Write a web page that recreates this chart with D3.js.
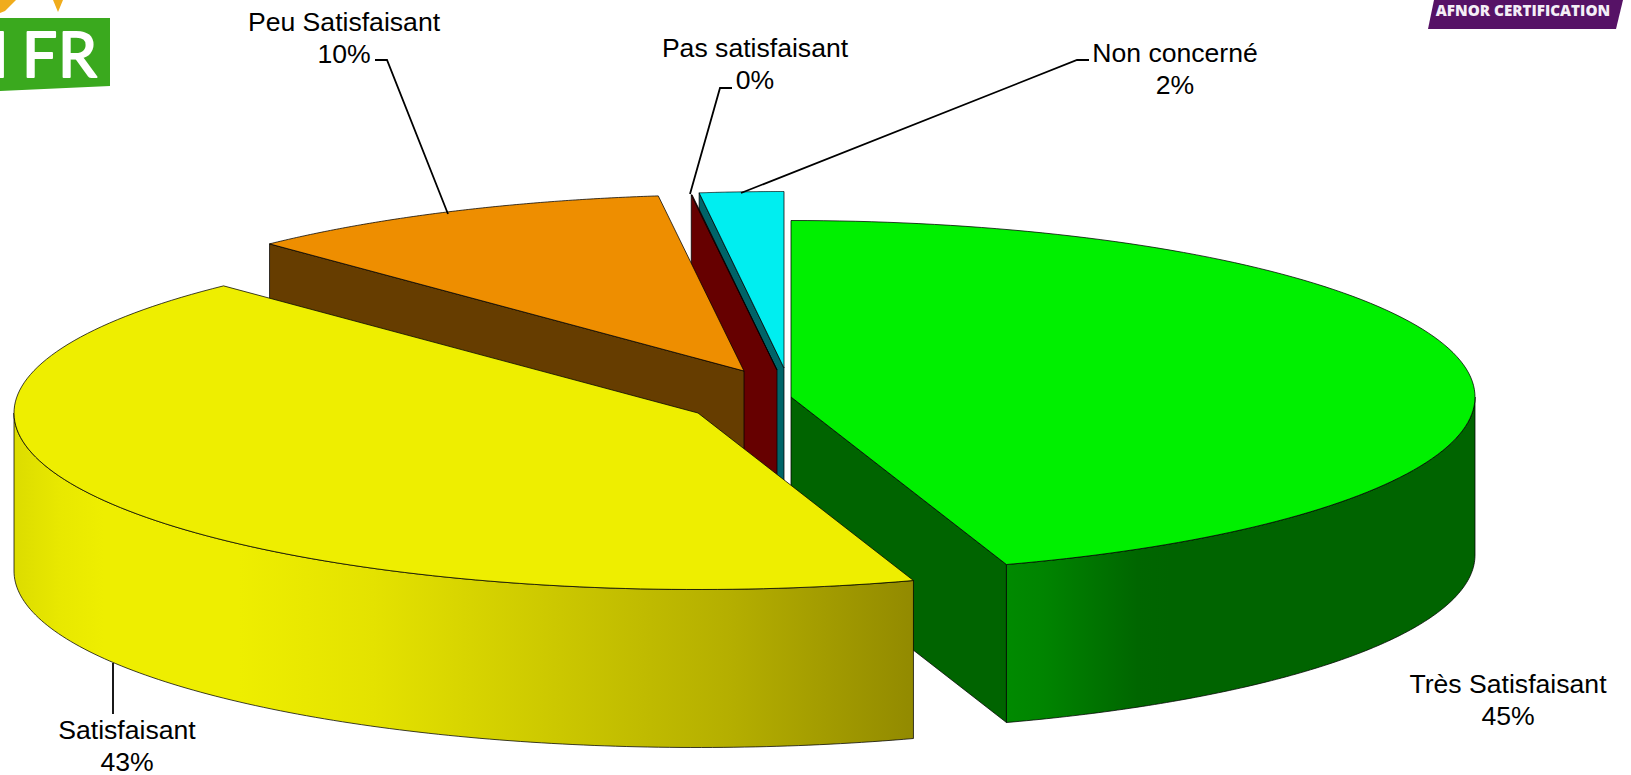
<!DOCTYPE html>
<html><head><meta charset="utf-8">
<script src="https://cdn.jsdelivr.net/npm/d3@7"></script>
<style>html,body{margin:0;padding:0;background:#fff;overflow:hidden}svg{display:block}text{font-family:"Liberation Sans",Arial,sans-serif}</style>
</head><body><svg id="c" width="1631" height="775"></svg>
<script>
// ---- data
const categories = ["Très Satisfaisant", "Satisfaisant", "Peu Satisfaisant", "Pas satisfaisant", "Non concerné"];
const values = [44.9, 42.9, 10.2, 0.02, 1.98];

// ---- layout & style
const W = 1631, H = 775, rx = 684, ry = 176.5, depth = 158;
const sliceCenters = [[791, 397], [698, 413], [744, 371], [777, 370], [784, 368]];
const topColors = ["#00f000", "#eeee00", "#ee8e00", "#7a0000", "#00eef0"];
const cutColors = ["#006400", "#eeee00", "#663d00", "#660000", "#006468"];
const labelPos = [[1508, 684], [127, 730], [344, 22], [755, 48], [1175, 53]];
const leaders = [
  null,
  [[113, 663], [113, 714]],
  [[375, 60], [387, 60], [448, 214]],
  [[732, 88], [720, 88], [690, 194]],
  [[1089, 60], [1077, 60], [741, 193]]
];
const wallStops = {
  0: [[0, "#008a00"], [0.08, "#008400"], [0.28, "#006600"], [0.35, "#006400"], [1, "#006400"]],
  1: [[0, "#dcdc00"], [0.05, "#e8e800"], [0.1, "#eeee00"], [0.25, "#eeee00"], [0.4, "#e4e200"], [0.6, "#ccc800"], [0.8, "#b4ae00"], [1, "#928a00"]]
};

const svg = d3.select("#c");
const defs = svg.append("defs");
const pie = d3.pie().sort(null).value(d => d)(values);
const arcs = pie.map((p, i) => ({ i, a0: p.startAngle, a1: p.endAngle, c: sliceCenters[i] }));
const px = (c, a) => [c[0] + rx * Math.sin(a), c[1] - ry * Math.cos(a)];
const rim = (c, a0, a1, dy = 0) => d3.range(0, 121).map(k => {
  const a = a0 + (a1 - a0) * k / 120, p = px(c, a);
  return [p[0], p[1] + dy];
});
const line = d3.line();
const stroke = s => s.attr("stroke", "#000").attr("stroke-opacity", 0.75).attr("stroke-width", 1).attr("stroke-linejoin", "round");

function cutWall(s, a) {
  const r = px(s.c, a);
  return line([s.c, r, [r[0], r[1] + depth], [s.c[0], s.c[1] + depth]]) + "Z";
}
function rimWall(s, a0, a1) {
  return line([...rim(s.c, a0, a1), ...rim(s.c, a0, a1, depth).reverse()]) + "Z";
}
function topFace(s) {
  return line([s.c, ...rim(s.c, s.a0, s.a1)]) + "Z";
}
function gradient(id, x0, x1, stops) {
  const g = defs.append("linearGradient").attr("id", id).attr("gradientUnits", "userSpaceOnUse")
    .attr("x1", x0).attr("x2", x1).attr("y1", 0).attr("y2", 0);
  stops.forEach(([o, c]) => g.append("stop").attr("offset", o).attr("stop-color", c));
}

// logos (background images of the slide)
const logos = svg.append("g");
logos.append("path").attr("d", "M0,0L16,0L5,11L0,13Z").attr("fill", "#f0ac1c");
logos.append("path").attr("d", "M53,0L63,0L58,12Z").attr("fill", "#f0ac1c");
logos.append("path").attr("d", "M0,18L110,18L110,86L0,91Z").attr("fill", "#3aa91e");
logos.append("text").text("MFR").attr("x", "-49 22 58").attr("y", 77)
  .attr("font-size", 62).attr("fill", "#fff").attr("stroke", "#fff").attr("stroke-width", 2)
  .attr("stroke-linejoin", "round").style("font-family", "Lato");
logos.append("path").attr("d", "M1434,0L1623,0L1616,29L1428,29Z").attr("fill", "#561266");
logos.append("text").text("AFNOR CERTIFICATION").attr("x", 1523).attr("y", 16).attr("text-anchor", "middle")
  .attr("font-size", 15.2).attr("font-weight", 800).attr("fill", "#f4eef6").style("font-family", "Open Sans");

const [green, yellow, orange, maroon, cyan] = arcs;
const g = svg.append("g");
const draw = (d, fill) => stroke(g.append("path").attr("d", d).attr("fill", fill));

// painter's order: back slices first
draw(cutWall(cyan, cyan.a0), cutColors[4]);
draw(topFace(cyan), topColors[4]);
draw(cutWall(maroon, maroon.a0), cutColors[3]);
draw(topFace(maroon), topColors[3]);
draw(cutWall(orange, orange.a0), cutColors[2]);
draw(topFace(orange), topColors[2]);

gradient("wall0", px(green.c, Math.PI / 2)[0], px(green.c, green.a1)[0], wallStops[0].map(([o, c]) => [1 - o, c]).reverse());
draw(cutWall(green, green.a1), cutColors[0]);
draw(rimWall(green, Math.PI / 2, green.a1), "url(#wall0)");
draw(topFace(green), topColors[0]);

gradient("wall1", px(yellow.c, 1.5 * Math.PI)[0], px(yellow.c, yellow.a0)[0], wallStops[1]);
draw(rimWall(yellow, yellow.a0, 1.5 * Math.PI), "url(#wall1)");
draw(topFace(yellow), topColors[1]);

// leaders & labels
const fmt = d3.format(".0f");
leaders.forEach(l => {
  if (l) svg.append("path").attr("d", line(l)).attr("fill", "none").attr("stroke", "#000").attr("stroke-width", 1.8);
});
categories.forEach((c, i) => {
  const t = svg.append("text").attr("text-anchor", "middle").attr("font-size", 26.6).attr("fill", "#000");
  t.append("tspan").attr("x", labelPos[i][0]).attr("y", labelPos[i][1] + 9).text(c);
  t.append("tspan").attr("x", labelPos[i][0]).attr("y", labelPos[i][1] + 40.5).text(fmt(values[i]) + "%");
});
</script></body></html>
